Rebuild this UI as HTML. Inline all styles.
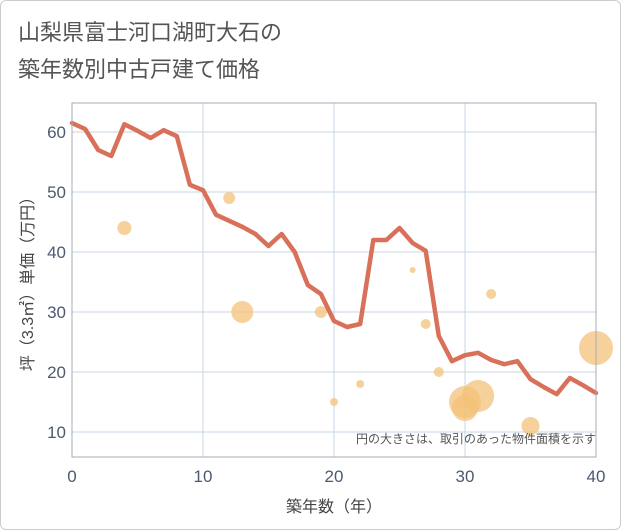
<!DOCTYPE html>
<html><head><meta charset="utf-8">
<style>
html,body{margin:0;padding:0;background:#fff;}
body{width:621px;height:530px;overflow:hidden;font-family:"Liberation Sans","Noto Sans CJK JP",sans-serif;}
#frame{position:absolute;left:0;top:0;width:619px;height:528px;border:1px solid #ccc;border-radius:6px;}
</style></head>
<body>
<div id="frame"></div>
<svg id="chart" width="621" height="530" style="position:absolute;left:0;top:0">
<text x="18" y="40" font-size="22" fill="#555" font-family="Liberation Sans, Noto Sans CJK JP, sans-serif">山梨県富士河口湖町大石の</text>
<text x="18" y="77" font-size="22" fill="#555" font-family="Liberation Sans, Noto Sans CJK JP, sans-serif">築年数別中古戸建て価格</text>
<g id="grid"></g><g id="bubbles"></g><g id="line"></g><g id="axes"></g>
<text x="596" y="443" text-anchor="end" font-size="12" fill="#555" font-family="Liberation Sans, Noto Sans CJK JP, sans-serif">円の大きさは、取引のあった物件面積を示す</text>
<text x="334" y="512" text-anchor="middle" font-size="16" fill="#444" font-family="Liberation Sans, Noto Sans CJK JP, sans-serif">築年数（年）</text>
<text transform="translate(33,280) rotate(-90)" text-anchor="middle" font-size="16" fill="#444" font-family="Liberation Sans, Noto Sans CJK JP, sans-serif">坪（3.3㎡）単価（万円）</text>
</svg>
<script>
const lineYears=[0,1,2,3,4,5,6,7,8,9,10,11,12,13,14,15,16,17,18,19,20,21,22,23,24,25,26,27,28,29,30,31,32,33,34,35,36,37,38,39,40];
const linePrices=[61.5,60.5,57,56,61.3,60.2,59,60.3,59.3,51.2,50.3,46.2,45.2,44.2,43,41,43,40,34.5,33,28.5,27.5,28,42,42,44,41.5,40.2,26,21.8,22.8,23.2,22,21.3,21.8,18.8,17.5,16.3,19,17.8,16.5];
const bubbleYears=[4,12,13,19,20,22,26,27,28,30,30,31,32,35,40];
const bubblePrices=[44,49,30,30,15,18,37,28,20,15,14,16,33,11,24];
const bubbleSizes=[7,6,11,6,4,4,3,5,5,16,13,16,5,9,17];
const xTicks=[0,10,20,30,40];
const yTicks=[10,20,30,40,50,60];
const X0=72,X1=596,YT=103,YB=457;
const xs=v=>X0+(v-0)*(X1-X0)/40;
const ys=v=>432-(v-10)*6;
const NS="http://www.w3.org/2000/svg";
function mk(tag,attrs,parent){const e=document.createElementNS(NS,tag);for(const k in attrs)e.setAttribute(k,attrs[k]);parent.appendChild(e);return e;}
const grid=document.getElementById('grid'),axes=document.getElementById('axes');
xTicks.forEach(t=>{
 const l=mk('line',{x1:xs(t),x2:xs(t),y1:YT,y2:YB,stroke:'#c9d5e3','stroke-width':1},grid);
 
 
 const tx=mk('text',{x:xs(t),y:482,'text-anchor':'middle','font-size':17,fill:'#4a5a70'},axes);
 tx.textContent=t;
 
 
});
yTicks.forEach(t=>{
 const l=mk('line',{x1:X0,x2:X1,y1:ys(t),y2:ys(t),stroke:'#c9d5e3','stroke-width':1},grid);
 
 
 const tx=mk('text',{x:66,y:ys(t)+6,'text-anchor':'end','font-size':17,fill:'#4a5a70'},axes);
 tx.textContent=t;
 
 
});
const border=mk('rect',{x:X0,y:YT,width:X1-X0,height:YB-YT,fill:'none',stroke:'#aab','stroke-width':1},axes);


const bg=document.getElementById('bubbles');
bubbleYears.forEach((yr,i)=>{
 const c=mk('circle',{cx:xs(yr),cy:ys(bubblePrices[i]),r:bubbleSizes[i],fill:'#f3c27a','fill-opacity':0.75},bg);
 
 
});
const pts=lineYears.map((yr,i)=>xs(yr)+','+ys(linePrices[i])).join(' ');
const pl=mk('polyline',{points:pts,fill:'none',stroke:'#d9705a','stroke-width':4.5,'stroke-linejoin':'round','stroke-linecap':'round'},document.getElementById('line'));


</script>
</body></html>
